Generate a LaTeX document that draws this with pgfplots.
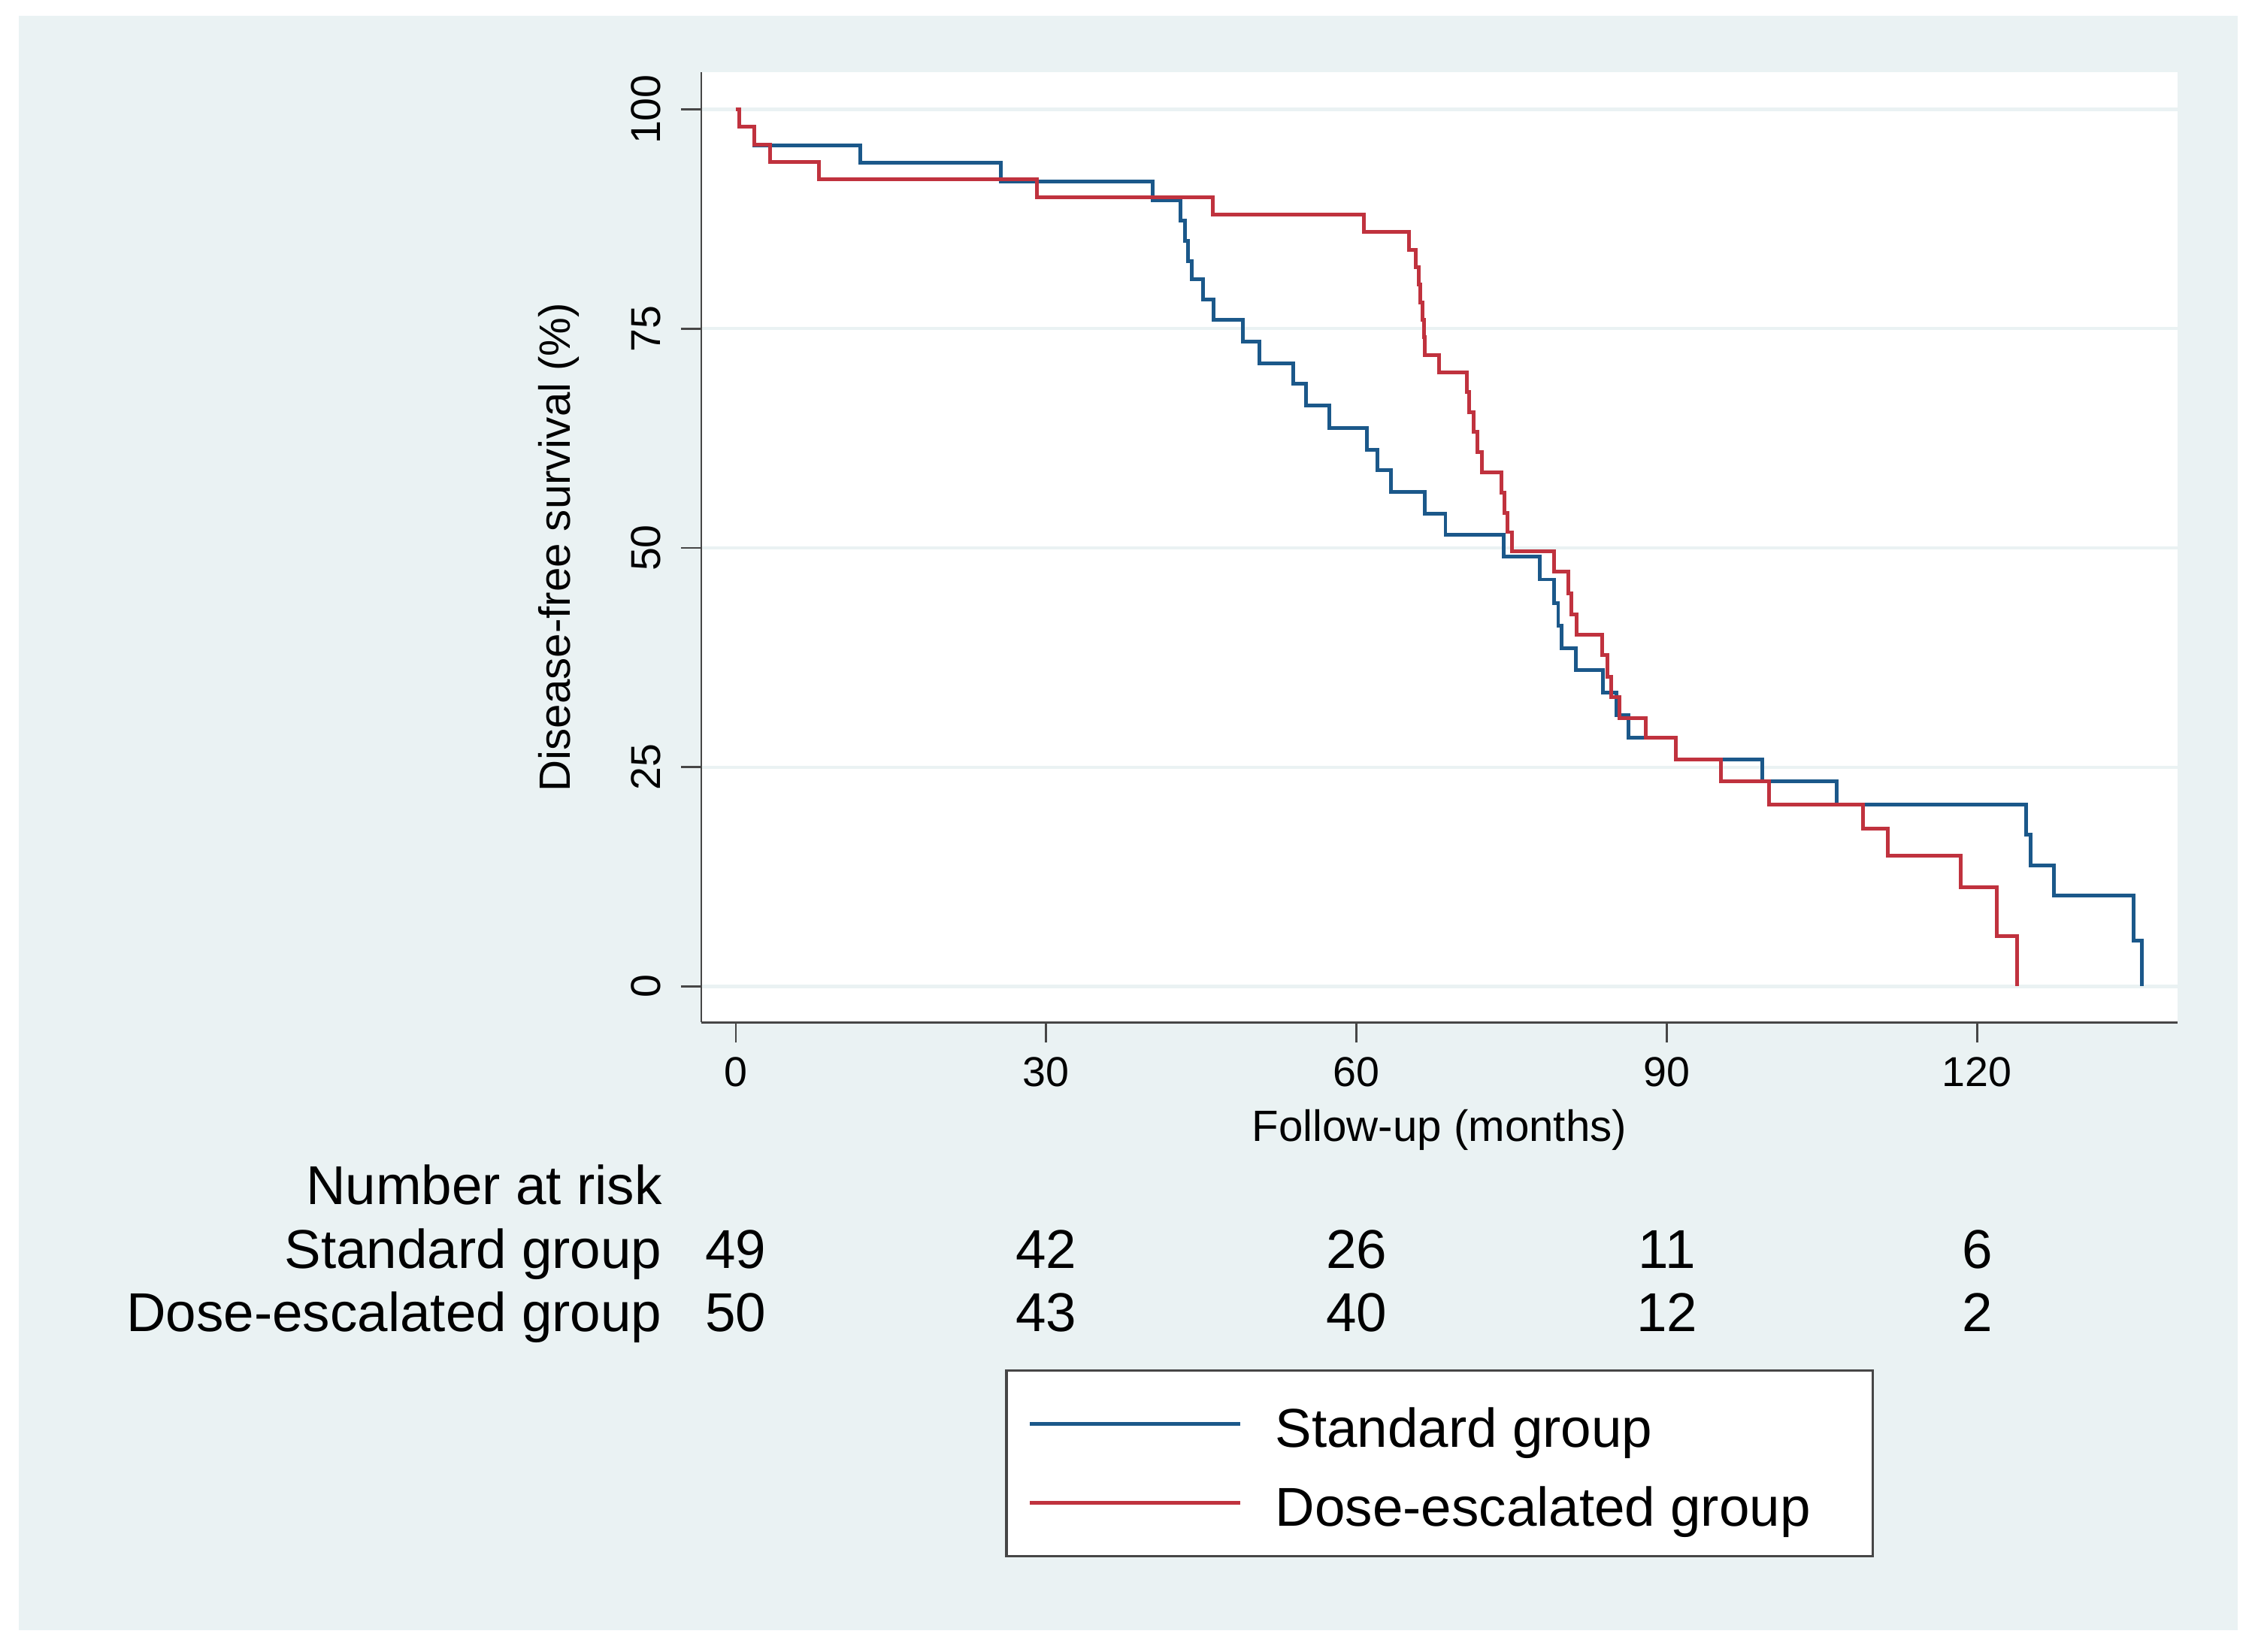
\documentclass[border=0pt]{standalone}
\usepackage{fontspec}
\setmainfont{Liberation Sans}
\usepackage{pgfplots}
\pgfplotsset{compat=1.18}

\definecolor{panel}{RGB}{234,242,243}
\definecolor{stblue}{RGB}{27,88,138}
\definecolor{stred}{RGB}{192,50,62}
\definecolor{axisgray}{RGB}{70,70,70}
\newcommand\tickfont{\fontsize{14.5}{17}\selectfont}
\newcommand\labfont{\fontsize{15.2}{18}\selectfont}
\newcommand\tabfont{\fontsize{19}{22}\selectfont}
\newcommand\lstrut{\rule{0pt}{17.5pt}}

\begin{document}
\begin{tikzpicture}[x=1pt,y=1pt]
% page and Stata-like panel
\fill[white] (0,0) rectangle (784,573.5);
\fill[panel] (6.6,7.3) rectangle (777,568.1);

\begin{axis}[
    at={(243.5pt,218.5pt)}, anchor=south west,
    scale only axis, width=512.5pt, height=330pt,
    xmin=-3.34, xmax=139.36, ymin=-4.1, ymax=104.27,
    axis x line*=bottom, axis y line*=left,
    axis line style={-, axisgray, line width=0.75pt},
    axis background/.style={fill=white},
    xtick={0,30,60,90,120}, ytick={0,25,50,75,100},
    tick align=outside, major tick length=7pt,
    tick style={axisgray, line width=0.75pt},
    ymajorgrids, grid style={panel, line width=1.1pt},
    /pgf/number format/assume math mode=true,
    ticklabel style={font=\tickfont},
    yticklabel style={rotate=90, anchor=south},
    yticklabel shift=3.5pt, xticklabel shift=1.5pt,
    label style={font=\labfont},
    xlabel={Follow-up (months)},
    ylabel={Disease-free survival (\%)},
    xlabel style={at={(axis description cs:0.5,-0.1136)}, anchor=center},
    ylabel style={at={(axis description cs:-0.0966,0.5)}, anchor=center},
    legend cell align=left,
    legend style={at={(axis description cs:0.2059,-0.365)}, anchor=north west,
        draw=axisgray, line width=0.9pt, fill=white, font=\tabfont,
        inner xsep=7.5pt, inner ysep=7pt, row sep=4.4pt, column sep=9.5pt,
        nodes={inner sep=2pt}},
    legend image code/.code={\draw[#1, line width=1.3pt] (0pt,0pt) -- (73pt,0pt);},
]

\addplot[const plot, stblue, line width=1.3pt] coordinates {
(0,100) (0.3,98.0) (1.8,95.9) (12.0,93.9) (25.6,91.8) (40.3,89.6)
(43.0,87.3) (43.4,85.0) (43.7,82.7) (44.1,80.6) (45.2,78.3) (46.2,76.0)
(49.0,73.5) (50.6,71.0) (53.9,68.7) (55.1,66.2) (57.4,63.7) (61.0,61.2)
(62.0,58.9) (63.3,56.4) (66.6,53.9) (68.6,51.5) (74.2,49.0) (77.7,46.4)
(79.1,43.7) (79.5,41.1) (79.8,38.6) (81.2,36.1) (83.8,33.5) (85.1,30.9)
(86.3,28.4) (90.9,25.9) (99.2,23.4) (106.4,20.7) (124.7,17.3) (125.2,13.8)
(127.4,10.4) (135.1,5.2) (135.9,0)
};
\addlegendentry{\lstrut Standard group}

\addplot[const plot, stred, line width=1.3pt] coordinates {
(0,100) (0.3,98) (1.8,96) (3.3,94) (8.0,92) (29.1,90) (46.1,88) (60.7,86)
(65.1,84) (65.7,82) (66.0,80) (66.2,78) (66.4,76) (66.5,74) (66.6,72)
(68.0,70) (70.7,67.8) (70.9,65.5) (71.3,63.2) (71.7,60.9) (72.1,58.6)
(74.0,56.3) (74.3,54.0) (74.6,51.8) (75.0,49.6) (79.1,47.3) (80.5,44.8)
(80.75,42.4) (81.25,40.1) (83.75,37.8) (84.25,35.3) (84.6,33.0) (85.4,30.6)
(88.0,28.35) (90.9,25.9) (95.2,23.4) (99.9,20.75) (109.0,17.95) (111.4,14.9)
(118.4,11.3) (121.9,5.7) (123.85,0)
};
\addlegendentry{\lstrut Dose-escalated group\hspace*{12pt}}
\end{axis}

% number at risk table
\begin{scope}[every node/.style={font=\tabfont, inner sep=0pt}]
\node[anchor=base east] at (230,155.2) {Number at risk};
\node[anchor=base east] at (230,133.2) {Standard group};
\node[anchor=base east] at (230,111.2) {Dose-escalated group};
\foreach \x/\a/\b in {255.5/49/50, 363.2/42/43, 471.0/26/40, 578.8/11/12, 686.5/6/2} {
  \node[anchor=base] at (\x,133.2) {\a};
  \node[anchor=base] at (\x,111.2) {\b};
}
\end{scope}
\end{tikzpicture}
\end{document}
